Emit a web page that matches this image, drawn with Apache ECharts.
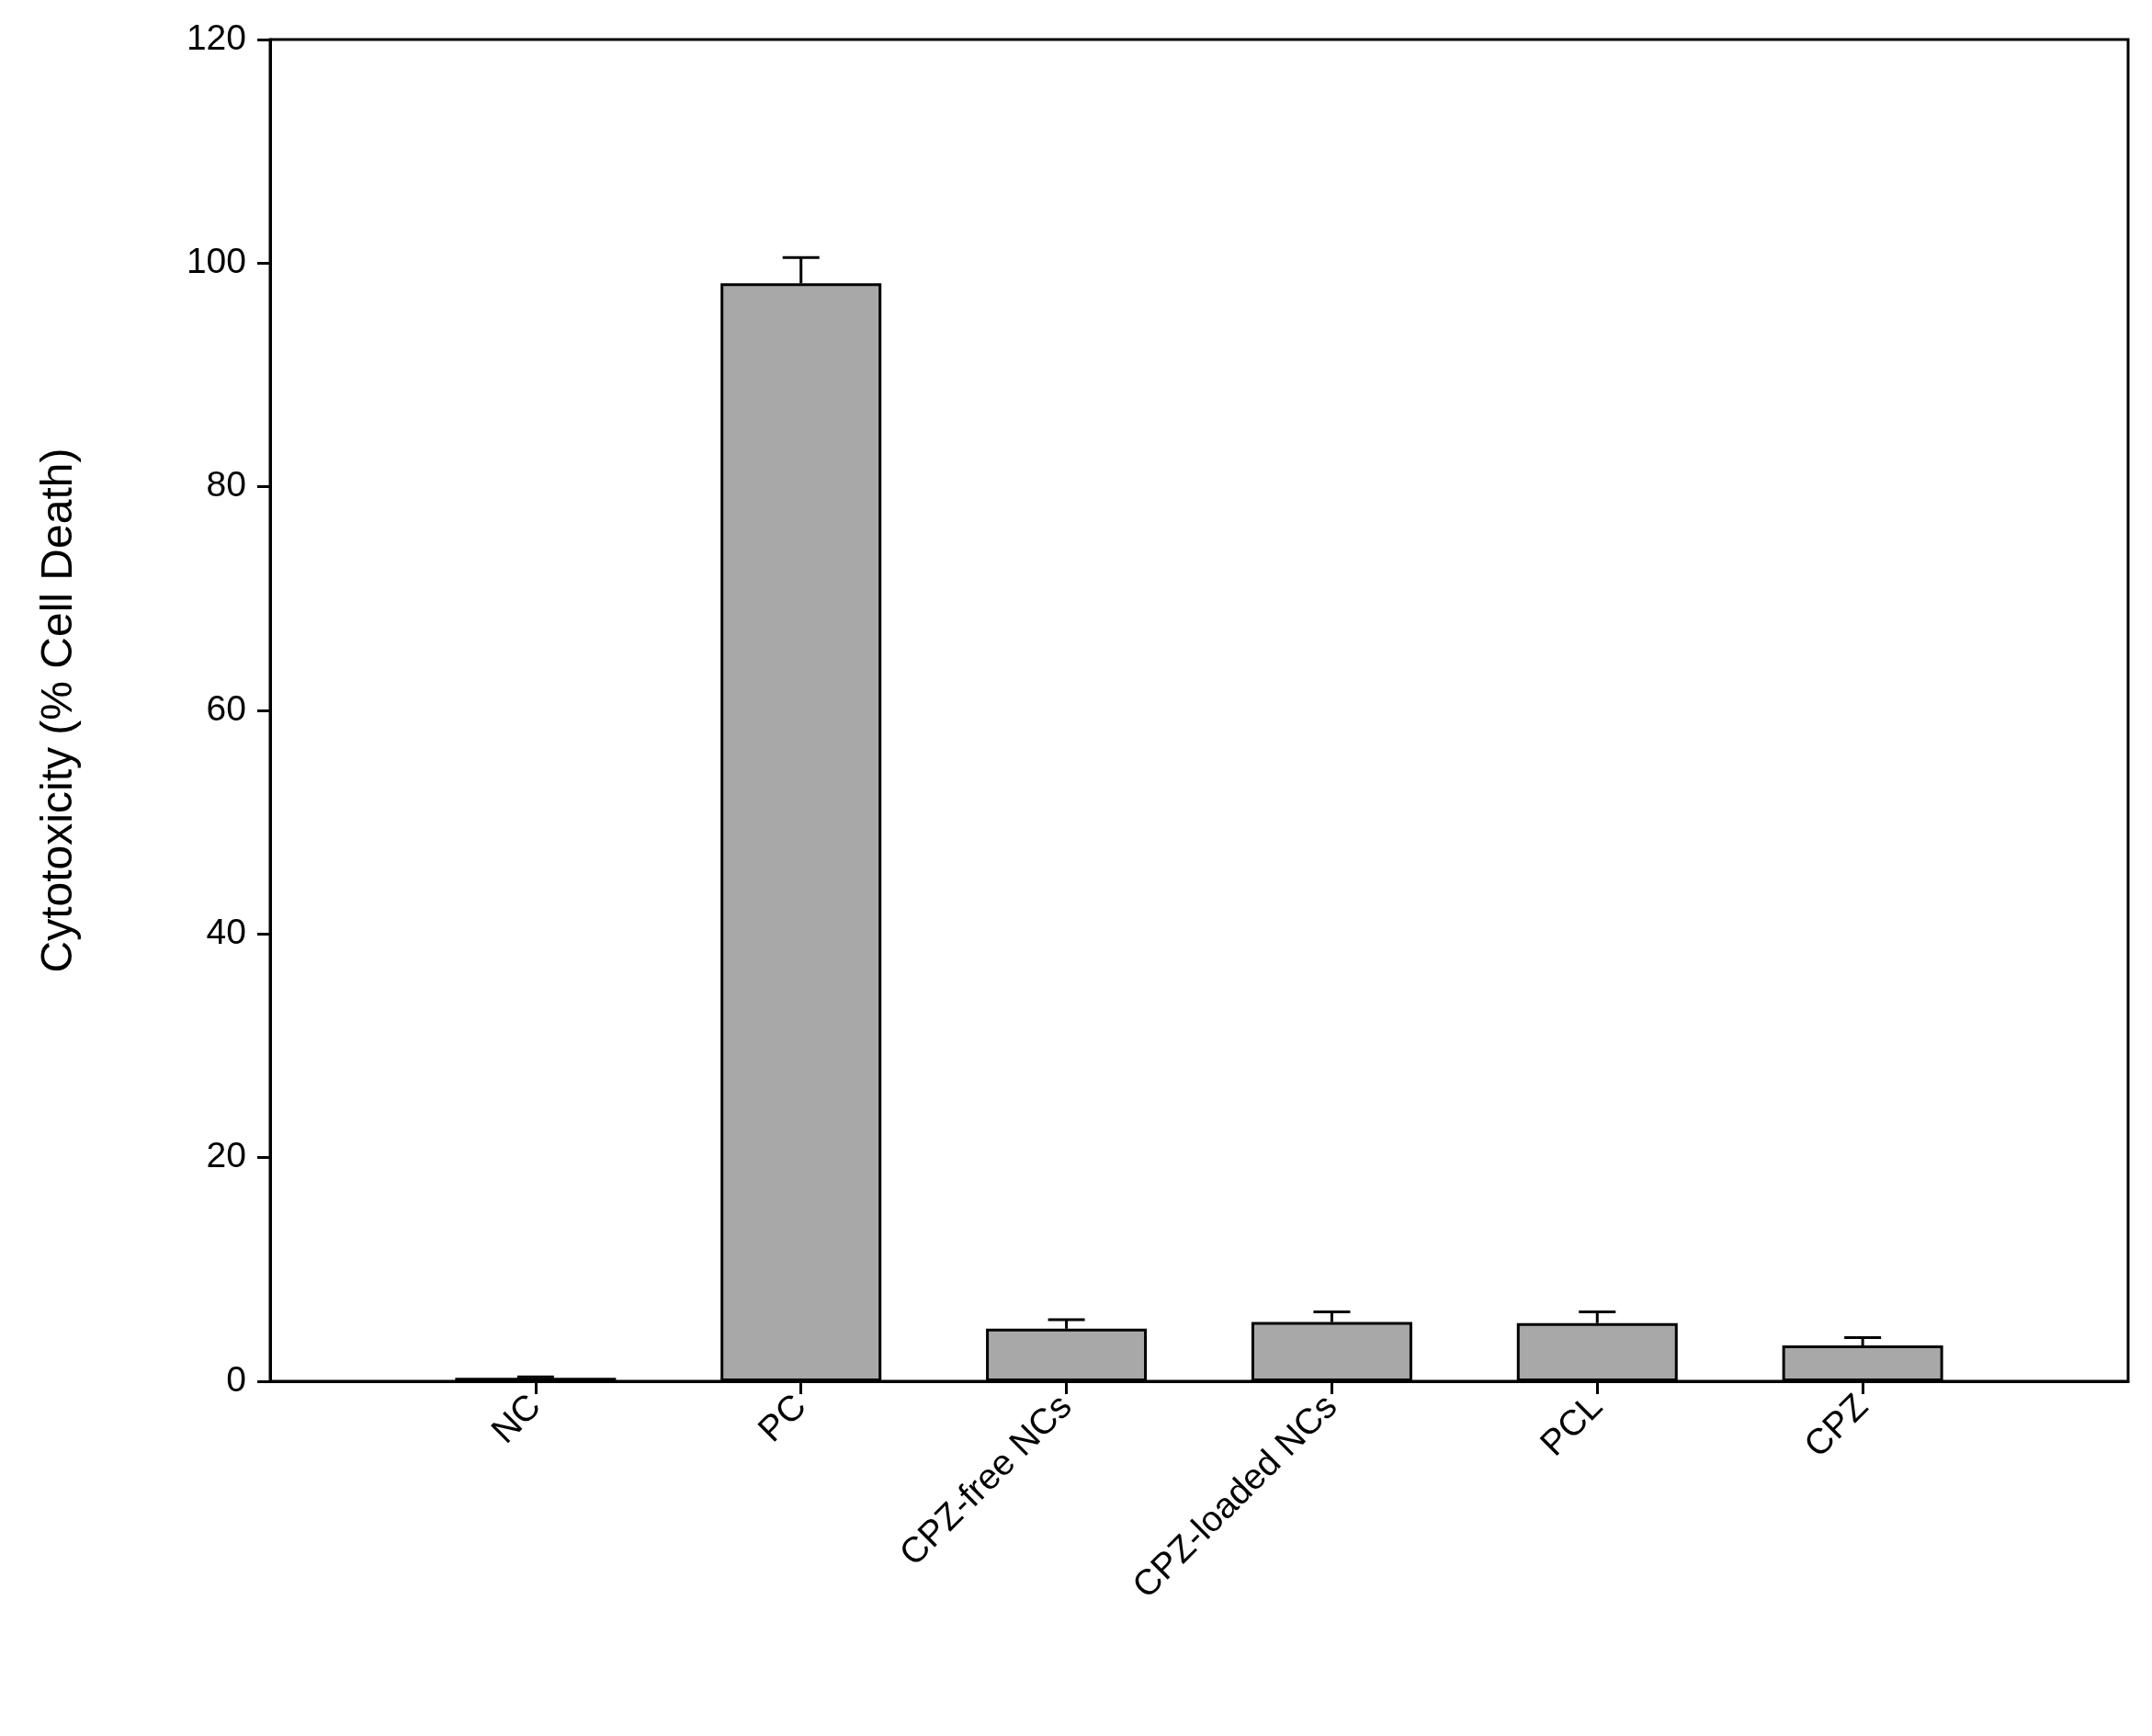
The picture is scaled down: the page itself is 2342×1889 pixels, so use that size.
<!DOCTYPE html>
<html><head><meta charset="utf-8">
<script src="https://cdn.jsdelivr.net/npm/echarts@6/dist/echarts.min.js"></script>
<style>html,body{margin:0;padding:0;background:#fff}#c{width:2342px;height:1889px}</style>
</head><body><div id="c"></div>
<script>
var categories = ['', 'NC', 'PC', 'CPZ-free NCs', 'CPZ-loaded NCs', 'PCL', 'CPZ', ''];
var values = [null, 0.3, 98.2, 4.7, 5.3, 5.2, 3.2, null];
var errors = [null, 0.1, 2.3, 0.8, 0.9, 1.0, 0.7, null];
var yTicks = [0, 20, 40, 60, 80, 100, 120];

var font = 'Liberation Sans, Arial, sans-serif';
var errData = values.map(function (v, i) { return v == null ? null : [i, v, v + errors[i]]; })
    .filter(function (d) { return d; });

function renderErr(params, api) {
    var lo = api.coord([api.value(0), api.value(1)]);
    var hi = api.coord([api.value(0), api.value(2)]);
    var cap = 20;
    var st = { stroke: '#000', lineWidth: 3 };
    return {
        type: 'group',
        children: [
            { type: 'line', shape: { x1: lo[0], y1: lo[1], x2: hi[0], y2: hi[1] }, style: st },
            { type: 'line', shape: { x1: hi[0] - cap, y1: hi[1], x2: hi[0] + cap, y2: hi[1] }, style: st }
        ]
    };
}

var chart = echarts.init(document.getElementById('c'));
chart.setOption({
    animation: false,
    grid: { left: 294, right: 26, top: 43, bottom: 386, show: true, borderColor: '#000', borderWidth: 3 },
    xAxis: {
        type: 'category',
        data: categories,
        boundaryGap: false,
        axisLine: { lineStyle: { color: '#000', width: 3 } },
        axisTick: { length: 14, lineStyle: { color: '#000', width: 3 },
            interval: function (i) { return i > 0 && i < categories.length - 1; } },
        axisLabel: { rotate: 45, margin: 22, fontSize: 39, color: '#000', fontFamily: font, interval: 0 },
        splitLine: { show: false }
    },
    yAxis: {
        type: 'value',
        min: 0, max: 120, interval: 20,
        name: 'Cytotoxicity (% Cell Death)',
        nameLocation: 'middle',
        nameGap: 205,
        nameTextStyle: { fontSize: 48, color: '#000', fontFamily: font },
        axisLine: { show: true, lineStyle: { color: '#000', width: 3 } },
        axisTick: { show: true, length: 14, lineStyle: { color: '#000', width: 3 } },
        axisLabel: { fontSize: 39, color: '#000', fontFamily: font, margin: 26,
            formatter: function (v) { return yTicks.indexOf(v) >= 0 ? v : ''; } },
        splitLine: { show: false }
    },
    series: [
        {
            type: 'bar',
            data: values,
            barWidth: 175,
            itemStyle: { color: '#a8a8a8', borderColor: '#000', borderWidth: 3 },
            z: 2
        },
        {
            type: 'custom',
            renderItem: renderErr,
            data: errData,
            z: 1
        }
    ]
});
</script></body></html>
